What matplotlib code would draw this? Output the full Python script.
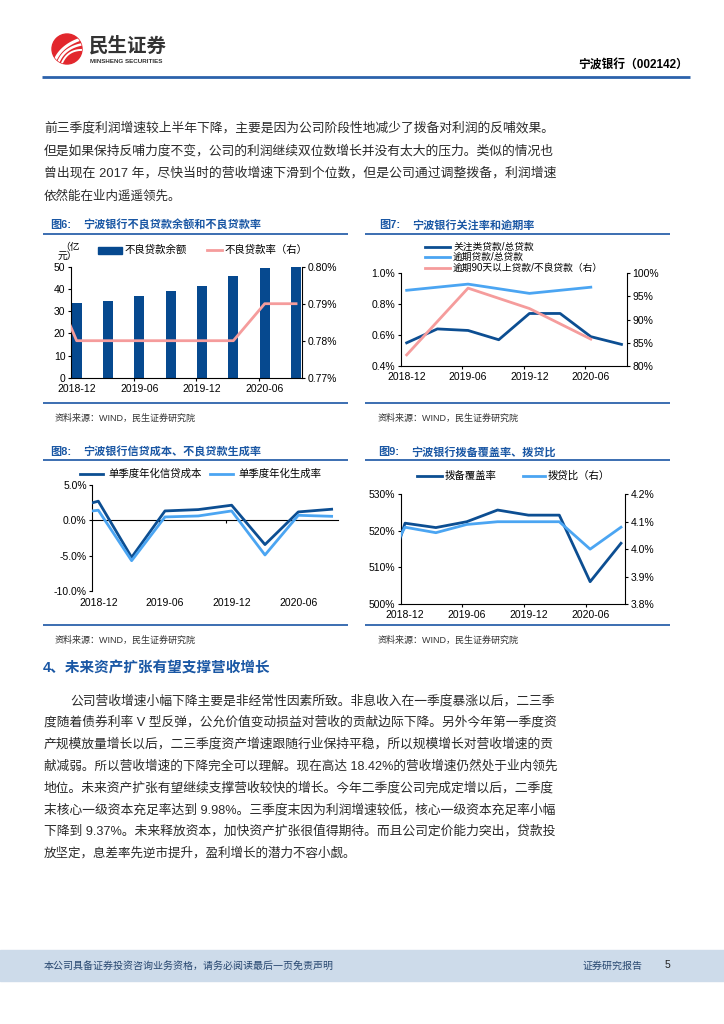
import numpy as np
import matplotlib
matplotlib.use('Agg')
import matplotlib.pyplot as plt
from matplotlib.patches import Rectangle, Circle
from matplotlib.font_manager import FontProperties
from matplotlib.ticker import FuncFormatter

# ---------------- data ----------------
quarters = ['2018-12', '2019-03', '2019-06', '2019-09', '2019-12', '2020-03', '2020-06', '2020-09']
half_years = ['2018-12', '2019-06', '2019-12', '2020-06']
prev_quarter = '2018-09'   # series below that start one quarter earlier (clipped at the axis edge)

# Fig 6
npl_balance = [33.5, 34.6, 36.8, 39.0, 41.3, 45.8, 49.5, 49.9]                 # 亿元
npl_ratio = [0.80, 0.78, 0.78, 0.78, 0.78, 0.78, 0.78, 0.79, 0.79]             # %, from 2018-09
# Fig 7
special_mention_ratio = [0.55, 0.64, 0.63, 0.57, 0.74, 0.74, 0.59, 0.54]       # %
overdue_ratio = [0.89, 0.93, 0.87, 0.91]                                       # %, half-yearly
overdue90_to_npl = [82.4, 96.8, 92.4, 85.8]                                    # %, half-yearly
# Fig 8 (from 2018-09)
credit_cost = [1.43, 2.71, -5.24, 1.33, 1.52, 2.14, -3.43, 1.19, 1.57]
npl_formation = [0.87, 1.43, -5.71, 0.48, 0.62, 1.33, -4.90, 0.71, 0.57]
# Fig 9 (from 2018-09)
provision_coverage = [495.7, 522.1, 520.9, 522.5, 525.7, 524.3, 524.3, 506.1, 516.6]
provision_loan_ratio = [3.87, 4.08, 4.06, 4.09, 4.10, 4.10, 4.10, 4.00, 4.08]

para1 = [
    "前三季度利润增速较上半年下降，主要是因为公司阶段性地减少了拨备对利润的反哺效果。",
    "但是如果保持反哺力度不变，公司的利润继续双位数增长并没有太大的压力。类似的情况也",
    "曾出现在 2017 年，尽快当时的营收增速下滑到个位数，但是公司通过调整拨备，利润增速",
    "依然能在业内遥遥领先。",
]
para2 = [
    "公司营收增速小幅下降主要是非经常性因素所致。非息收入在一季度暴涨以后，二三季",
    "度随着债券利率 V 型反弹，公允价值变动损益对营收的贡献边际下降。另外今年第一季度资",
    "产规模放量增长以后，二三季度资产增速跟随行业保持平稳，所以规模增长对营收增速的贡",
    "献减弱。所以营收增速的下降完全可以理解。现在高达 18.42%的营收增速仍然处于业内领先",
    "地位。未来资产扩张有望继续支撑营收较快的增长。今年二季度公司完成定增以后，二季度",
    "末核心一级资本充足率达到 9.98%。三季度末因为利润增速较低，核心一级资本充足率小幅",
    "下降到 9.37%。未来释放资本，加快资产扩张很值得期待。而且公司定价能力突出，贷款投",
    "放坚定，息差率先逆市提升，盈利增长的潜力不容小觑。",
]

# ---------------- style ----------------
FAM = ['Liberation Sans', 'Noto Sans CJK SC', 'DejaVu Sans']
plt.rcParams['font.family'] = FAM
BLUE_TXT = '#1a57a4'
LINE_BLUE = '#2c62ab'
BAR = '#06498f'
DARK = '#0c4e92'
LIGHT = '#4ba5f2'
PINK = '#f59c9c'
LW = 2.0

W, H = 724, 1024
fig = plt.figure(figsize=(W / 100, H / 100), dpi=100)
renderer = fig.canvas.get_renderer()

page = fig.add_axes([0, 0, 1, 1])
page.set_xlim(0, W)
page.set_ylim(H, 0)
page.axis('off')


def ax_px(x0, y0, x1, y1):
    return fig.add_axes([x0 / W, 1 - y1 / H, (x1 - x0) / W, (y1 - y0) / H])


def hline(x0, x1, y, color=LINE_BLUE, lw=1.3):
    page.plot([x0, x1], [y, y], color=color, lw=lw, solid_capstyle='butt')


def put_line(s, x0, x1, yc, size=9.0, justify=True, color='#2a2a2a'):
    if justify:
        fp = FontProperties(family=FAM, size=size)
        w = renderer.get_text_width_height_descent(s, fp, ismath=False)[0]
        size = min(max(size * (x1 - x0) / w, 8.4), 9.6)
    em = size * 100 / 72
    page.text(x0, yc + 0.38 * em, s, fontsize=size, color=color, ha='left', va='baseline')


def style(ax, right=False):
    ax.patch.set_visible(False)
    ax.spines['top'].set_visible(False)
    ax.spines['right'].set_visible(right)
    for s in ax.spines.values():
        s.set_linewidth(0.8)
        s.set_color('black')
    ax.tick_params(direction='out', length=2.5, width=0.8, labelsize=7.5, pad=1.5, colors='black')


def xcat(ax, xl, xr, labels_idx, labels, pad=4.5):
    ax.set_xlim(xl, xr)
    ax.set_xticks(labels_idx)
    ax.set_xticklabels(labels)
    ax.set_xticks([xl + 2, xl + 4, xl + 6], minor=True)
    ax.tick_params(axis='x', which='major', length=0, pad=pad, labelsize=7.5)
    ax.tick_params(axis='x', which='minor', length=2.5, width=0.8, direction='out')


def twin(ax):
    t = ax.twinx()
    t.patch.set_visible(False)
    for k in ['top', 'left', 'bottom']:
        t.spines[k].set_visible(False)
    t.spines['right'].set_linewidth(0.8)
    t.spines['right'].set_color('black')
    t.tick_params(direction='out', length=2.5, width=0.8, labelsize=7.5, pad=1.5, colors='black')
    return t


# ---------------- header ----------------
logo_c = Circle((67, 49), 15, color='#e2272d', zorder=2)
page.add_patch(logo_c)
tt = np.linspace(0, 1, 40)
for k in range(3):
    p0 = np.array([54 + k * 4.0, 63.0])
    p1 = np.array([60 + k * 4.0, 45.0 + k * 2])
    p2 = np.array([84.0, 38.0 + k * 6])
    pts = ((1 - tt) ** 2)[:, None] * p0 + (2 * (1 - tt) * tt)[:, None] * p1 + (tt ** 2)[:, None] * p2
    ln, = page.plot(pts[:, 0], pts[:, 1], color='white', lw=2.2 - 0.4 * k, zorder=3, solid_capstyle='round')
    ln.set_clip_path(logo_c)
page.text(89, 46, '民生证券', fontsize=14, fontweight='bold', color='#333333', ha='left', va='center')
page.text(90, 61.5, 'MINSHENG SECURITIES', fontsize=4.5, fontweight='bold', color='#333333', ha='left', va='center')
page.text(688, 66, '宁波银行（002142）', fontsize=8.5, fontweight='bold', color='black', ha='right', va='center')
hline(42, 690, 77, lw=2.0)

# ---------------- paragraph 1 ----------------
for i, s in enumerate(para1):
    put_line(s, 44, 556, 127 + 22.5 * i, justify=(i < len(para1) - 1))

# ---------------- figure titles ----------------
def fig_title(x, y, num, text):
    page.text(x, y, num, fontsize=8, fontweight='bold', color=BLUE_TXT, ha='left', va='center')
    page.text(x + 33, y, text, fontsize=8, fontweight='bold', color=BLUE_TXT, ha='left', va='center')

fig_title(50, 225, '图6:', '宁波银行不良贷款余额和不良贷款率')
fig_title(379, 225, '图7:', '宁波银行关注率和逾期率')
hline(43, 348, 234)
hline(365, 670, 234)
hline(43, 348, 403)
hline(365, 670, 403)
page.text(55, 418, '资料来源：WIND，民生证券研究院', fontsize=6.5, color='#333333', ha='left', va='center')
page.text(378, 418, '资料来源：WIND，民生证券研究院', fontsize=6.5, color='#333333', ha='left', va='center')

fig_title(50, 452, '图8:', '宁波银行信贷成本、不良贷款生成率')
fig_title(378, 452, '图9:', '宁波银行拨备覆盖率、拨贷比')
hline(43, 348, 460)
hline(365, 670, 460)
hline(43, 348, 625)
hline(365, 670, 625)
page.text(55, 640, '资料来源：WIND，民生证券研究院', fontsize=6.5, color='#333333', ha='left', va='center')
page.text(378, 640, '资料来源：WIND，民生证券研究院', fontsize=6.5, color='#333333', ha='left', va='center')

xq = np.arange(len(quarters))
xq_ext = np.arange(-1, len(quarters))          # -1 -> prev_quarter
lab_idx = xq[::2]
lab_txt = quarters[::2]
half_idx = [quarters.index(q) for q in half_years]

# ---------------- Fig 6 ----------------
ax6 = ax_px(71, 266.7, 301.7, 377.7)
style(ax6)
ax6.bar(xq, npl_balance, width=0.32, color=BAR, zorder=2)
ax6.set_ylim(0, 50)
ax6.set_yticks(range(0, 51, 10))
xcat(ax6, -0.18, 7.18, lab_idx, lab_txt)
ax6r = twin(ax6)
ax6r.plot(xq_ext, npl_ratio, color=PINK, lw=LW, zorder=3)
ax6r.set_ylim(0.77, 0.80)
ax6r.set_yticks([0.77, 0.78, 0.79, 0.80])
ax6r.yaxis.set_major_formatter(FuncFormatter(lambda v, _: f'{v:.2f}%'))
ax6r.set_xlim(-0.18, 7.18)
page.text(60, 247, '（亿', fontsize=7, color='black', ha='left', va='center')
page.text(58, 256, '元）', fontsize=7, color='black', ha='left', va='center')
# legend
page.add_patch(Rectangle((98, 247), 24, 6.5, color=BAR))
page.text(125, 250, '不良贷款余额', fontsize=7.5, color='black', ha='left', va='center')
page.plot([207, 222], [250, 250], color=PINK, lw=LW)
page.text(225, 250, '不良贷款率（右）', fontsize=7.5, color='black', ha='left', va='center')

# ---------------- Fig 7 ----------------
ax7 = ax_px(401, 273.3, 626.7, 366)
style(ax7)
ax7.plot(xq, special_mention_ratio, color=DARK, lw=LW, zorder=3)
ax7.plot(half_idx, overdue_ratio, color=LIGHT, lw=LW, zorder=3)
ax7.set_ylim(0.4, 1.0)
ax7.set_yticks([0.4, 0.6, 0.8, 1.0])
ax7.yaxis.set_major_formatter(FuncFormatter(lambda v, _: f'{v:.1f}%'))
xcat(ax7, -0.185, 7.17, lab_idx, lab_txt, pad=4)
ax7r = twin(ax7)
ax7r.plot(half_idx, overdue90_to_npl, color=PINK, lw=LW, zorder=2)
ax7r.set_ylim(80, 100)
ax7r.set_yticks([80, 85, 90, 95, 100])
ax7r.yaxis.set_major_formatter(FuncFormatter(lambda v, _: f'{v:.0f}%'))
ax7r.set_xlim(-0.185, 7.17)
for i, (c, t) in enumerate([(DARK, '关注类贷款/总贷款'), (LIGHT, '逾期贷款/总贷款'),
                            (PINK, '逾期90天以上贷款/不良贷款（右）')]):
    yy = 246.5 + 10.7 * i
    page.plot([425, 450], [yy, yy], color=c, lw=LW)
    page.text(453, yy, t, fontsize=7, color='black', ha='left', va='center')

# ---------------- Fig 8 ----------------
ax8 = ax_px(92.3, 485, 338.3, 591)
style(ax8)
ax8.plot(xq_ext, credit_cost, color=DARK, lw=LW, zorder=3)
ax8.plot(xq_ext, npl_formation, color=LIGHT, lw=LW, zorder=3)
ax8.set_ylim(-10, 5)
ax8.set_yticks([-10, -5, 0, 5])
ax8.yaxis.set_major_formatter(FuncFormatter(lambda v, _: f'{v:.1f}%'))
ax8.spines['bottom'].set_position(('data', 0))
xcat(ax8, -0.18, 7.2, lab_idx, lab_txt, pad=56)
page.plot([80, 103], [474, 474], color=DARK, lw=LW)
page.text(108, 474, '单季度年化信贷成本', fontsize=7.5, color='black', ha='left', va='center')
page.plot([210, 233], [474, 474], color=LIGHT, lw=LW)
page.text(238, 474, '单季度年化生成率', fontsize=7.5, color='black', ha='left', va='center')

# ---------------- Fig 9 ----------------
ax9 = ax_px(400.7, 494.3, 625, 604)
style(ax9)
ax9.plot(xq_ext, provision_coverage, color=DARK, lw=LW, zorder=3)
ax9.set_ylim(500, 530)
ax9.set_yticks([500, 510, 520, 530])
ax9.yaxis.set_major_formatter(FuncFormatter(lambda v, _: f'{v:.0f}%'))
xcat(ax9, -0.14, 7.13, lab_idx, lab_txt, pad=4)
ax9r = twin(ax9)
ax9r.plot(xq_ext, provision_loan_ratio, color=LIGHT, lw=LW, zorder=2)
ax9r.set_ylim(3.8, 4.2)
ax9r.set_yticks([3.8, 3.9, 4.0, 4.1, 4.2])
ax9r.yaxis.set_major_formatter(FuncFormatter(lambda v, _: f'{v:.1f}%'))
ax9r.set_xlim(-0.14, 7.13)
page.plot([417, 442], [476, 476], color=DARK, lw=LW)
page.text(445, 476, '拨备覆盖率', fontsize=7.5, color='black', ha='left', va='center')
page.plot([523, 545], [476, 476], color=LIGHT, lw=LW)
page.text(548, 476, '拨贷比（右）', fontsize=7.5, color='black', ha='left', va='center')

# ---------------- section 4 ----------------
page.text(43, 668, '4、未来资产扩张有望支撑营收增长', fontsize=10.5, fontweight='bold',
          color=BLUE_TXT, ha='left', va='center')
for i, s in enumerate(para2):
    x0 = 70 if i == 0 else 44
    put_line(s, x0, 557, 699.3 + 21.8 * i, justify=(i < len(para2) - 1))

# ---------------- footer ----------------
page.add_patch(Rectangle((0, 950), W, 31, color='#cddbea', zorder=1))
page.text(44, 965.5, '本公司具备证券投资咨询业务资格，请务必阅读最后一页免责声明', fontsize=7.2,
          color='#26466f', ha='left', va='center', zorder=2)
page.text(583, 965.5, '证券研究报告', fontsize=7.2, color='#26466f', ha='left', va='center', zorder=2)
page.text(665, 965.5, '5', fontsize=7.5, color='#222222', ha='left', va='center', zorder=2)

fig.savefig('out.png', dpi=100)
